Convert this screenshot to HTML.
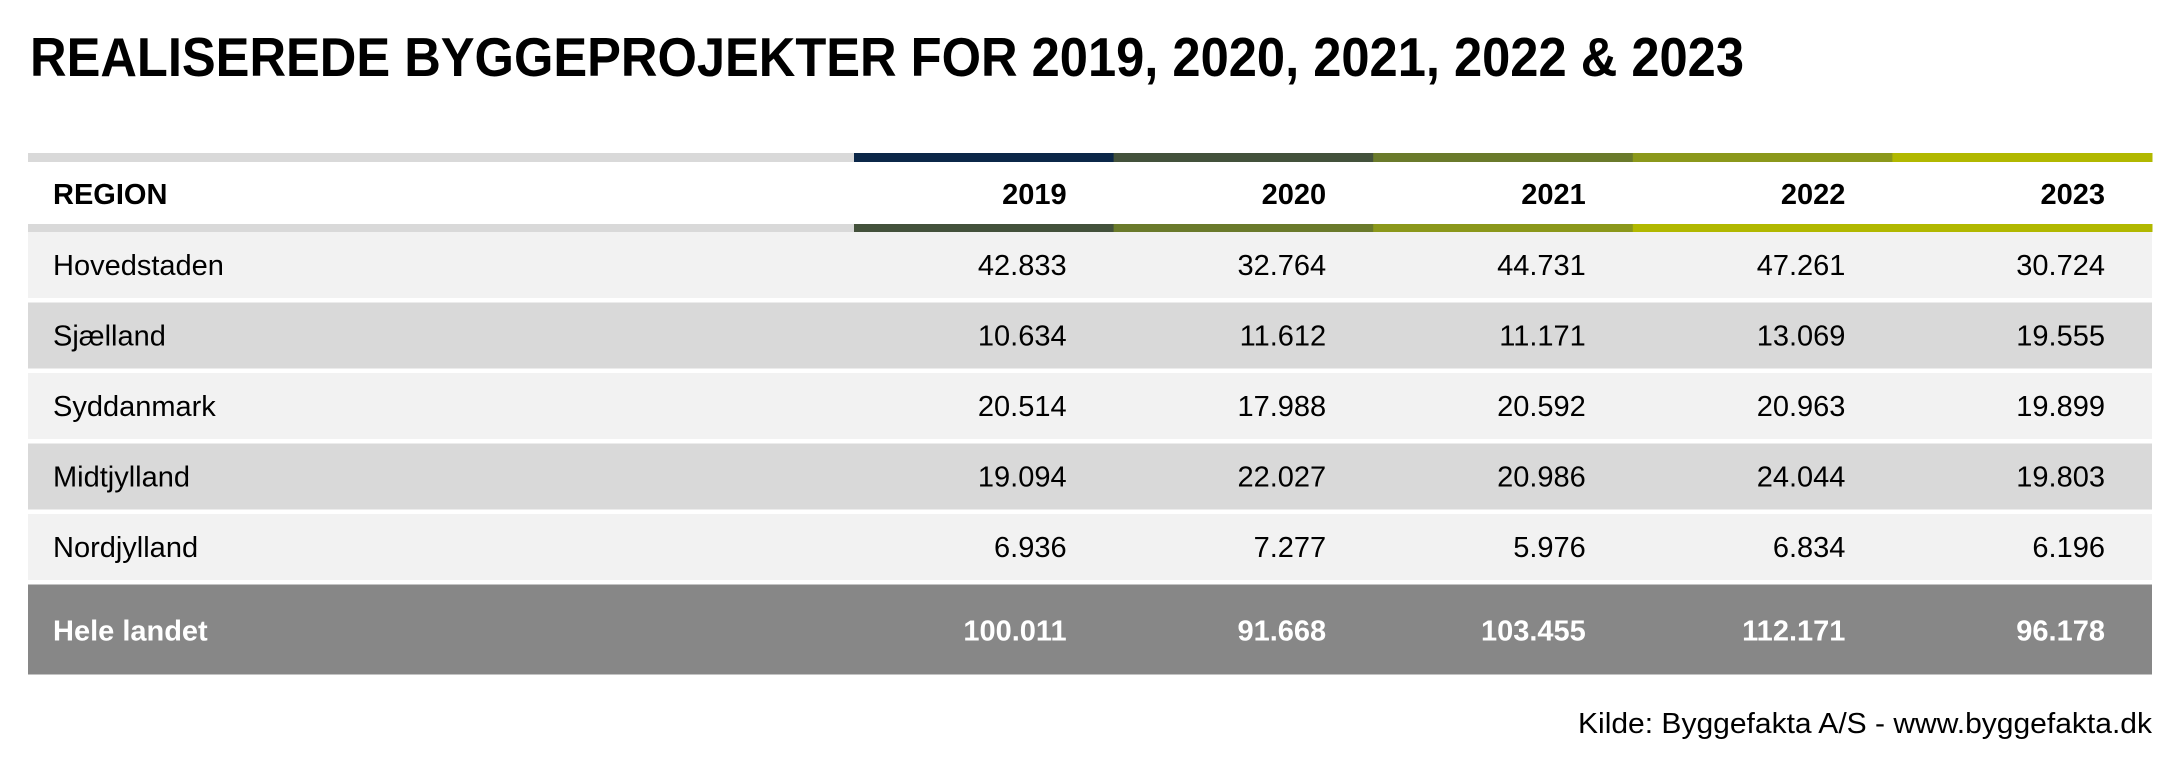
<!DOCTYPE html>
<html><head><meta charset="utf-8"><style>
html,body{margin:0;padding:0;background:#fff;width:2184px;height:763px;overflow:hidden}
svg{display:block;font-family:"Liberation Sans",sans-serif}
</style></head><body>
<svg id="chart" width="2184" height="763" xmlns="http://www.w3.org/2000/svg">
<text x="30" y="76" font-size="55" font-weight="bold" fill="#000" textLength="1714" lengthAdjust="spacingAndGlyphs">REALISEREDE BYGGEPROJEKTER FOR 2019, 2020, 2021, 2022 &amp; 2023</text>
<text x="2152" y="733" font-size="29" fill="#000" text-anchor="end" textLength="574" lengthAdjust="spacingAndGlyphs">Kilde: Byggefakta A/S - www.byggefakta.dk</text>
</svg>
<script>
const years = ["2019","2020","2021","2022","2023"];
const regions = ["Hovedstaden","Sjælland","Syddanmark","Midtjylland","Nordjylland"];
const v2019 = ["42.833","10.634","20.514","19.094","6.936"];
const v2020 = ["32.764","11.612","17.988","22.027","7.277"];
const v2021 = ["44.731","11.171","20.592","20.986","5.976"];
const v2022 = ["47.261","13.069","20.963","24.044","6.834"];
const v2023 = ["30.724","19.555","19.899","19.803","6.196"];
const totals = ["100.011","91.668","103.455","112.171","96.178"];
const totalLabel = "Hele landet";
const series = [v2019,v2020,v2021,v2022,v2023];

const svg = document.getElementById('chart');
const NS = 'http://www.w3.org/2000/svg';
function mk(tag, attrs){const e=document.createElementNS(NS,tag);for(const k in attrs)e.setAttribute(k,attrs[k]);svg.appendChild(e);return e;}
const left=28, right=2152, col0=854, colW=(right-col0)/years.length;
const topColors=["#0b2748","#43513b","#6a7a2b","#8b981b","#b1b800"];
const botColors=["#43513b","#6a7a2b","#8b981b","#b1b800","#b1b800"];
function colRight(i){return col0+colW*(i+1)-47;}

let r=mk('rect',{x:left,y:153,width:col0-left,height:9,fill:'#d9d9d9'});


r=mk('rect',{x:left,y:224,width:col0-left,height:8,fill:'#d9d9d9'});


years.forEach((y,i)=>{
  let a=mk('rect',{x:col0+colW*i,y:153,width:colW+0.5,height:9,fill:topColors[i]});
  
  
  let b=mk('rect',{x:col0+colW*i,y:224,width:colW+0.5,height:8,fill:botColors[i]});
  
  
  let t=mk('text',{x:colRight(i),y:204,'font-size':29,'font-weight':'bold','text-anchor':'end',fill:'#000'});
  t.textContent=y;
  
  
});
let h=mk('text',{x:53,y:204,'font-size':29,'font-weight':'bold',fill:'#000'});
h.textContent='REGION';



regions.forEach((reg,ri)=>{
  const top=232+ri*70.5;
  let bg=mk('rect',{x:left,y:top,width:right-left,height:66,fill:ri%2?'#d9d9d9':'#f2f2f2'});
  
  
  let t=mk('text',{x:53,y:top+43,'font-size':29,fill:'#000'});
  t.textContent=reg;
  
  
  series.forEach((s,ci)=>{
    let c=mk('text',{x:colRight(ci),y:top+43,'font-size':29,'text-anchor':'end',fill:'#000'});
    c.textContent=s[ri];
    
    
  });
});
const tTop=232+regions.length*70.5;
let tb=mk('rect',{x:left,y:tTop,width:right-left,height:90,fill:'#878787'});


let tl=mk('text',{x:53,y:tTop+56,'font-size':29,'font-weight':'bold',fill:'#fff'});
tl.textContent=totalLabel;


totals.forEach((v,ci)=>{
  let c=mk('text',{x:colRight(ci),y:tTop+56,'font-size':29,'font-weight':'bold','text-anchor':'end',fill:'#fff'});
  c.textContent=v;
  
  
});
</script>
</body></html>
